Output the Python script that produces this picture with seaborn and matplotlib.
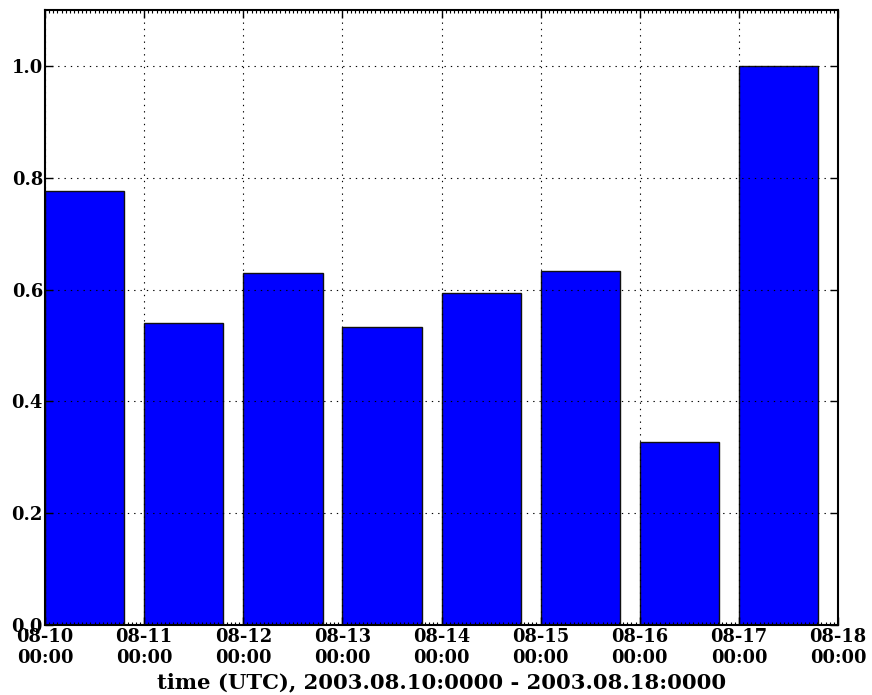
import datetime as dt
import matplotlib
matplotlib.use("Agg")
import matplotlib.pyplot as plt
import matplotlib.dates as mdates
import matplotlib.ticker as mticker
import pandas as pd
import seaborn as sns

# Daily fraction values, one bar per day starting at 00:00 UTC
days = ["2003-08-10", "2003-08-11", "2003-08-12", "2003-08-13",
        "2003-08-14", "2003-08-15", "2003-08-16", "2003-08-17"]
values = [0.777, 0.541, 0.629, 0.533, 0.593, 0.634, 0.327, 1.0]
bar_width_days = 0.8
x_start, x_end = "2003-08-10", "2003-08-18"
y_ticks = [0.0, 0.2, 0.4, 0.6, 0.8, 1.0]
xlabel = "time (UTC), 2003.08.10:0000 - 2003.08.18:0000"

sns.set_style("ticks")
plt.rcParams["font.family"] = ["DejaVu Serif"]
plt.rcParams["font.weight"] = "bold"
for key in ("text.color", "axes.labelcolor", "xtick.color", "ytick.color", "axes.edgecolor"):
    plt.rcParams[key] = "black"

day_nums = mdates.date2num(pd.to_datetime(days).to_pydatetime())
df = pd.DataFrame({"center": day_nums + bar_width_days / 2, "value": values})

fig = plt.figure(figsize=(8.72, 6.95), dpi=100)
ax = fig.add_axes([45 / 872, 1 - 625 / 695, (838 - 45) / 872, (625 - 10) / 695])

sns.barplot(data=df, x="center", y="value", native_scale=True, width=bar_width_days,
            color="#0000ff", saturation=1, edgecolor="#111111", linewidth=1.0, ax=ax)

lo = mdates.date2num(dt.datetime.fromisoformat(x_start))
hi = mdates.date2num(dt.datetime.fromisoformat(x_end))
ax.set_xlim(lo, hi)
ax.set_ylim(0, 1.1)

ax.xaxis.set_major_locator(mdates.DayLocator())
ax.xaxis.set_major_formatter(mdates.DateFormatter("%m-%d\n%H:%M"))
ax.xaxis.set_minor_locator(mdates.HourLocator())
ax.yaxis.set_major_locator(mticker.FixedLocator(y_ticks))
ax.yaxis.set_major_formatter(mticker.FormatStrFormatter("%.1f"))

ax.grid(True, which="major", linestyle=(0, (1.2, 4.5)), color="black", linewidth=0.8)
ax.set_axisbelow(False)
for s in ax.spines.values():
    s.set_visible(True)
    s.set_linewidth(1.5)
    s.set_color("black")

ax.tick_params(which="major", direction="in", length=6, width=1, top=True, right=True,
               labelsize=12.9, colors="black")
ax.tick_params(which="minor", direction="in", length=2.5, width=0.8, top=True, bottom=True,
               colors="black")
ax.tick_params(axis="x", which="major", pad=2)
ax.tick_params(axis="y", which="major", pad=1.5)
for lab in ax.get_xticklabels() + ax.get_yticklabels():
    lab.set_fontweight("bold")

ax.set_xlabel(xlabel, fontsize=15.2, fontweight="bold", labelpad=4)
ax.set_ylabel("")

fig.savefig("out.png", dpi=100)
